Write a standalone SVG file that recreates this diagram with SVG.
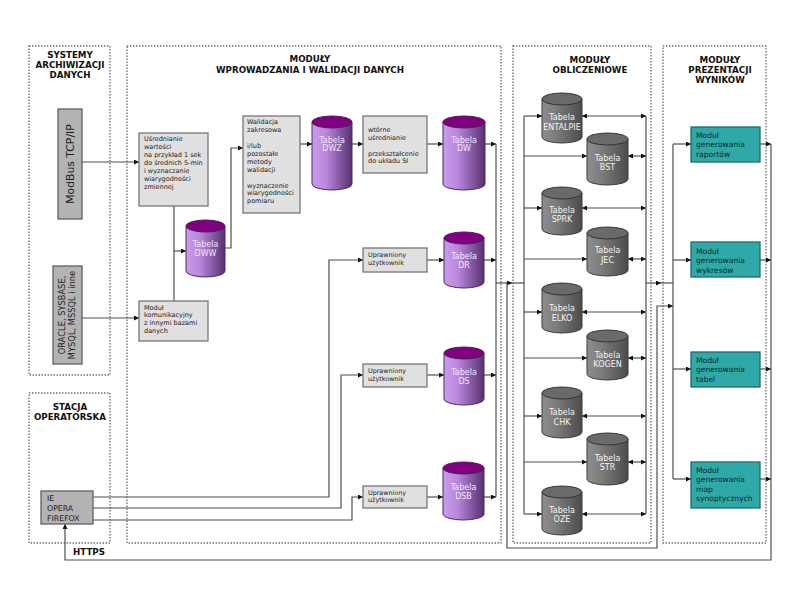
<svg xmlns="http://www.w3.org/2000/svg" width="800" height="600" viewBox="0 0 800 600">
<style>
.bg{fill:#ffffff}
.mod{fill:none;stroke:#6a6a6a;stroke-width:1.3;stroke-dasharray:1.4 1.6}
.ttl{font-family:"DejaVu Sans",Verdana,sans-serif;font-weight:bold;font-size:8.7px;fill:#111;text-anchor:middle}
.lbox{fill:#e0e0e0;stroke:#777;stroke-width:1.3}
.dbox{fill:#b3b3b3;stroke:#606060;stroke-width:1.3}
.tbox{fill:#2ea9a8;stroke:#1d6b6b;stroke-width:1.3}
.t{font-family:"DejaVu Sans",Verdana,sans-serif;font-size:6.5px;fill:#222}
.tu{font-family:"DejaVu Sans",Verdana,sans-serif;font-size:6.4px;fill:#222}
.tt{font-family:"DejaVu Sans",Verdana,sans-serif;font-size:7.6px;fill:#0b2626}
.tv{font-family:"DejaVu Sans",Verdana,sans-serif;fill:#222;text-anchor:middle}
.ct{font-family:"DejaVu Sans",Verdana,sans-serif;font-size:8px;text-anchor:middle}
.pc{fill:url(#pg);stroke:#4a2a5a;stroke-width:1}
.pt{fill:#800080;stroke:#4a1a5a;stroke-width:1}
.gc{fill:url(#gg);stroke:#3a3a3a;stroke-width:1}
.gt{fill:#6a6a6a;stroke:#333;stroke-width:1}
.ptx{fill:#f3e6ff}
.gtx{fill:#f2f2f2}
.c{fill:none;stroke:#4f4f4f;stroke-width:1.2}
.a{marker-end:url(#ah)}
.b{marker-start:url(#ah);marker-end:url(#ah)}
</style>
<defs>
<linearGradient id="pg" x1="0" y1="0" x2="1" y2="0">
<stop offset="0" stop-color="#c99cec"/>
<stop offset="0.35" stop-color="#b987dc"/>
<stop offset="1" stop-color="#563070"/>
</linearGradient>
<linearGradient id="gg" x1="0" y1="0" x2="1" y2="0">
<stop offset="0" stop-color="#8e8e8e"/>
<stop offset="0.35" stop-color="#7c7c7c"/>
<stop offset="1" stop-color="#4c4c4c"/>
</linearGradient>
<marker id="ah" viewBox="0 0 6 6" refX="6" refY="3" markerWidth="5" markerHeight="5" markerUnits="userSpaceOnUse" orient="auto-start-reverse">
<path d="M0,0 L6,3 L0,6 z" fill="#111"/>
</marker>
</defs>
<rect class="bg" x="0" y="0" width="800" height="600"/>

<g id="modules">
<rect class="mod" x="29" y="46" width="81" height="329"/>
<rect class="mod" x="127" y="46" width="374" height="497"/>
<rect class="mod" x="29" y="393" width="81" height="150"/>
<rect class="mod" x="513" y="46" width="138" height="497"/>
<rect class="mod" x="663" y="46" width="103" height="497"/>
<text class="ttl" x="70" y="58">SYSTEMY</text>
<text class="ttl" x="70" y="68">ARCHIWIZACJI</text>
<text class="ttl" x="70" y="78">DANYCH</text>
<text class="ttl" x="310" y="62">MODUŁY</text>
<text class="ttl" x="310" y="72.5">WPROWADZANIA I WALIDACJI DANYCH</text>
<text class="ttl" x="590" y="63">MODUŁY</text>
<text class="ttl" x="590" y="73">OBLICZENIOWE</text>
<text class="ttl" x="720" y="63">MODUŁY</text>
<text class="ttl" x="720" y="73">PREZENTACJI</text>
<text class="ttl" x="720" y="83">WYNIKÓW</text>
<text class="ttl" x="70" y="409.5">STACJA</text>
<text class="ttl" x="70" y="419.5">OPERATORSKA</text>
<text class="ttl" x="73" y="554.5" text-anchor="start" style="text-anchor:start">HTTPS</text>
</g>

<g id="connectors">
<!-- sources -->
<path class="c a" d="M82,162 H139"/>
<path class="c a" d="M82,318 H139"/>
<path class="c" d="M174,206 V301"/>
<path class="c a" d="M174,251 H186"/>
<path class="c a" d="M225,248 H231 V148 H243"/>
<path class="c a" d="M300,144 H312"/>
<path class="c a" d="M352,144 H363"/>
<path class="c a" d="M427,144 H443"/>
<path class="c a" d="M485,144 H496"/>
<!-- browser lines -->
<path class="c a" d="M93,497 H329 V260 H363"/>
<path class="c a" d="M93,508 H341 V375 H363"/>
<path class="c a" d="M93,520 H352 V497 H363"/>
<path class="c a" d="M427,260 H444"/>
<path class="c a" d="M427,375 H444"/>
<path class="c a" d="M427,497 H443"/>
<path class="c a" d="M484,260 H496"/>
<path class="c a" d="M484,375 H496"/>
<path class="c a" d="M484,497 H496"/>
<!-- collector -->
<path class="c" d="M496,144 V497"/>
<path class="c a" d="M496,283 H512"/>
<path class="c" d="M511,283 H524"/>
<!-- bypass -->
<path class="c a" d="M507,283 V548 H657 V306 H673"/>
<!-- calc left bus -->
<path class="c" d="M524,116 V514"/>
<path class="c a" d="M524,116 H542"/>
<path class="c a" d="M524,156 H587"/>
<path class="c a" d="M524,208 H542"/>
<path class="c a" d="M524,259 H587"/>
<path class="c a" d="M524,312 H542"/>
<path class="c a" d="M524,358 H587"/>
<path class="c a" d="M524,416 H542"/>
<path class="c a" d="M524,462 H587"/>
<path class="c a" d="M524,514 H542"/>
<!-- calc right bus -->
<path class="c b" d="M582,116 H646"/>
<path class="c b" d="M628,156 H646"/>
<path class="c b" d="M582,208 H646"/>
<path class="c b" d="M628,259 H646"/>
<path class="c b" d="M582,312 H646"/>
<path class="c b" d="M628,358 H646"/>
<path class="c b" d="M582,416 H646"/>
<path class="c b" d="M628,462 H646"/>
<path class="c b" d="M582,514 H646"/>
<path class="c" d="M646,116 V514"/>
<path class="c a" d="M646,283 H661"/>
<path class="c" d="M660,283 H673"/>
<!-- presentation -->
<path class="c" d="M673,144 V479"/>
<path class="c a" d="M673,144 H691"/>
<path class="c a" d="M673,260 H691"/>
<path class="c a" d="M673,369 H691"/>
<path class="c a" d="M673,479 H691"/>
<path class="c a" d="M760,144 H771"/>
<path class="c a" d="M760,260 H771"/>
<path class="c a" d="M760,369 H771"/>
<path class="c a" d="M760,479 H771"/>
<path class="c a" d="M771,144 V560 H65 V524"/>
</g>

<g id="modbus">
<rect class="dbox" x="58" y="109" width="24" height="110"/>
<text class="tv" font-size="10.8" transform="translate(74,164) rotate(-90)">ModBus TCP/IP</text>
</g>
<g id="oracle">
<rect class="dbox" x="53" y="266" width="29" height="98"/>
<text class="tv" font-size="8.3" transform="translate(65,315) rotate(-90)">ORACLE, SYSBASE,</text>
<text class="tv" font-size="8.3" transform="translate(75,315) rotate(-90)">MYSQL, MSSQL i inne</text>
</g>
<g id="browser">
<rect class="dbox" x="41" y="491" width="52" height="33"/>
<text class="t" style="font-size:7.8px" x="47" y="500.5">IE</text>
<text class="t" style="font-size:7.8px" x="47" y="510.5">OPERA</text>
<text class="t" style="font-size:7.8px" x="47" y="520.5">FIREFOX</text>
</g>

<g id="usrednianie">
<rect class="lbox" x="139" y="133" width="69" height="73"/>
<text class="t" x="144" y="141.3">Uśrednianie</text>
<text class="t" x="144" y="149.2">wartości</text>
<text class="t" x="144" y="157.1">na przykład 1 sek</text>
<text class="t" x="144" y="165">do średnich 5-min</text>
<text class="t" x="144" y="172.9">i wyznaczanie</text>
<text class="t" x="144" y="180.8">wiarygodności</text>
<text class="t" x="144" y="188.7">zmiennej</text>
</g>
<g id="komunikacyjny">
<rect class="lbox" x="139" y="301" width="69" height="40"/>
<text class="t" x="144" y="309.5">Moduł</text>
<text class="t" x="144" y="317.3">komunikacyjny</text>
<text class="t" x="144" y="325.1">z innymi bazami</text>
<text class="t" x="144" y="332.9">danych</text>
</g>
<g id="walidacja">
<rect class="lbox" x="243" y="116" width="57" height="97"/>
<text class="t" x="247" y="124.3">Walidacja</text>
<text class="t" x="247" y="132.2">zakresowa</text>
<text class="t" x="247" y="148">i/lub</text>
<text class="t" x="247" y="155.9">pozostałe</text>
<text class="t" x="247" y="163.8">metody</text>
<text class="t" x="247" y="171.7">walidacji</text>
<text class="t" x="247" y="187.5">wyznaczenie</text>
<text class="t" x="247" y="195.4">wiarygodności</text>
<text class="t" x="247" y="203.3">pomiaru</text>
</g>
<g id="wtorne">
<rect class="lbox" x="363" y="116" width="64" height="57"/>
<text class="t" x="368" y="132.3">wtórne</text>
<text class="t" x="368" y="140.1">uśrednianie</text>
<text class="t" x="368" y="155.6">przekształcenie</text>
<text class="t" x="368" y="163.4">do układu SI</text>
</g>
<g id="upr-dr">
<rect class="lbox" x="363" y="248" width="64" height="24"/>
<text class="tu" x="368" y="257.3">Uprawniony</text>
<text class="tu" x="368" y="265">użytkownik</text>
</g>
<g id="upr-ds">
<rect class="lbox" x="363" y="364" width="64" height="23"/>
<text class="tu" x="368" y="373">Uprawniony</text>
<text class="tu" x="368" y="380.7">użytkownik</text>
</g>
<g id="upr-dsb">
<rect class="lbox" x="363" y="486" width="64" height="22"/>
<text class="tu" x="368" y="494.5">Uprawniony</text>
<text class="tu" x="368" y="502.2">użytkownik</text>
</g>

<!-- purple cylinders -->
<g id="dww">
<path class="pc" d="M186,226 V271 A19.5,6 0 0 0 225,271 V226 Z"/>
<ellipse class="pt" cx="205.5" cy="226" rx="19.5" ry="6"/>
<text class="ct ptx" x="205.5" y="246.8">Tabela</text>
<text class="ct ptx" x="205.5" y="255.8">DWW</text>
</g>
<g id="dwz">
<path class="pc" d="M312,122 V184 A20,6 0 0 0 352,184 V122 Z"/>
<ellipse class="pt" cx="332" cy="122" rx="20" ry="6"/>
<text class="ct ptx" x="332" y="142.8">Tabela</text>
<text class="ct ptx" x="332" y="150.8">DWZ</text>
</g>
<g id="dw">
<path class="pc" d="M443,122 V184 A21,6 0 0 0 485,184 V122 Z"/>
<ellipse class="pt" cx="464" cy="122" rx="21" ry="6"/>
<text class="ct ptx" x="464" y="142.8">Tabela</text>
<text class="ct ptx" x="464" y="150.8">DW</text>
</g>
<g id="dr">
<path class="pc" d="M444,238 V282 A20,6 0 0 0 484,282 V238 Z"/>
<ellipse class="pt" cx="464" cy="238" rx="20" ry="6"/>
<text class="ct ptx" x="464" y="258.8">Tabela</text>
<text class="ct ptx" x="464" y="267.8">DR</text>
</g>
<g id="ds">
<path class="pc" d="M444,353 V399 A20,6 0 0 0 484,399 V353 Z"/>
<ellipse class="pt" cx="464" cy="353" rx="20" ry="6"/>
<text class="ct ptx" x="464" y="374.8">Tabela</text>
<text class="ct ptx" x="464" y="383.8">DS</text>
</g>
<g id="dsb">
<path class="pc" d="M443,468 V514 A20.5,6 0 0 0 484,514 V468 Z"/>
<ellipse class="pt" cx="463.5" cy="468" rx="20.5" ry="6"/>
<text class="ct ptx" x="463.5" y="489.8">Tabela</text>
<text class="ct ptx" x="463.5" y="498.8">DSB</text>
</g>

<!-- gray cylinders -->
<g id="entalpie">
<path class="gc" d="M542,99 V137 A20,6 0 0 0 582,137 V99 Z"/>
<ellipse class="gt" cx="562" cy="99" rx="20" ry="6"/>
<text class="ct gtx" x="562" y="119.8">Tabela</text>
<text class="ct gtx" x="562" y="129.5">ENTALPIE</text>
</g>
<g id="bst">
<path class="gc" d="M587,139 V179 A20.5,6 0 0 0 628,179 V139 Z"/>
<ellipse class="gt" cx="607.5" cy="139" rx="20.5" ry="6"/>
<text class="ct gtx" x="607.5" y="160.8">Tabela</text>
<text class="ct gtx" x="607.5" y="169.8">BST</text>
</g>
<g id="sprk">
<path class="gc" d="M542,193 V229 A20,6 0 0 0 582,229 V193 Z"/>
<ellipse class="gt" cx="562" cy="193" rx="20" ry="6"/>
<text class="ct gtx" x="562" y="212.8">Tabela</text>
<text class="ct gtx" x="562" y="221.8">SPRK</text>
</g>
<g id="jec">
<path class="gc" d="M587,233 V270 A20.5,6 0 0 0 628,270 V233 Z"/>
<ellipse class="gt" cx="607.5" cy="233" rx="20.5" ry="6"/>
<text class="ct gtx" x="607.5" y="252.8">Tabela</text>
<text class="ct gtx" x="607.5" y="262.5">JEC</text>
</g>
<g id="elko">
<path class="gc" d="M542,289 V327 A20,6 0 0 0 582,327 V289 Z"/>
<ellipse class="gt" cx="562" cy="289" rx="20" ry="6"/>
<text class="ct gtx" x="562" y="310.8">Tabela</text>
<text class="ct gtx" x="562" y="320.5">ELKO</text>
</g>
<g id="kogen">
<path class="gc" d="M587,336 V374 A20.5,6 0 0 0 628,374 V336 Z"/>
<ellipse class="gt" cx="607.5" cy="336" rx="20.5" ry="6"/>
<text class="ct gtx" x="607.5" y="357.8">Tabela</text>
<text class="ct gtx" x="607.5" y="366.8">KOGEN</text>
</g>
<g id="chk">
<path class="gc" d="M542,393 V432 A20,6 0 0 0 582,432 V393 Z"/>
<ellipse class="gt" cx="562" cy="393" rx="20" ry="6"/>
<text class="ct gtx" x="562" y="414.8">Tabela</text>
<text class="ct gtx" x="562" y="424.5">CHK</text>
</g>
<g id="str">
<path class="gc" d="M587,439 V479 A20.5,6 0 0 0 628,479 V439 Z"/>
<ellipse class="gt" cx="607.5" cy="439" rx="20.5" ry="6"/>
<text class="ct gtx" x="607.5" y="460.8">Tabela</text>
<text class="ct gtx" x="607.5" y="469.8">STR</text>
</g>
<g id="oze">
<path class="gc" d="M542,492 V529 A20,6 0 0 0 582,529 V492 Z"/>
<ellipse class="gt" cx="562" cy="492" rx="20" ry="6"/>
<text class="ct gtx" x="562" y="512.8">Tabela</text>
<text class="ct gtx" x="562" y="521.8">OZE</text>
</g>

<!-- presentation modules -->
<g id="raporty">
<rect class="tbox" x="691" y="127" width="69" height="35"/>
<text class="tt" x="696" y="137.5">Moduł</text>
<text class="tt" x="696" y="147">generowania</text>
<text class="tt" x="696" y="156.5">raportów</text>
</g>
<g id="wykresy">
<rect class="tbox" x="691" y="242" width="69" height="35"/>
<text class="tt" x="696" y="253.5">Moduł</text>
<text class="tt" x="696" y="263">generowania</text>
<text class="tt" x="696" y="272.5">wykresów</text>
</g>
<g id="tabele">
<rect class="tbox" x="691" y="352" width="69" height="35"/>
<text class="tt" x="696" y="362.5">Moduł</text>
<text class="tt" x="696" y="372">generowania</text>
<text class="tt" x="696" y="381.5">tabel</text>
</g>
<g id="mapy">
<rect class="tbox" x="691" y="462" width="69" height="46"/>
<text class="tt" x="696" y="472.5">Moduł</text>
<text class="tt" x="696" y="482">generowania</text>
<text class="tt" x="696" y="491.5">map</text>
<text class="tt" x="696" y="501">synoptycznych</text>
</g>
</svg>
